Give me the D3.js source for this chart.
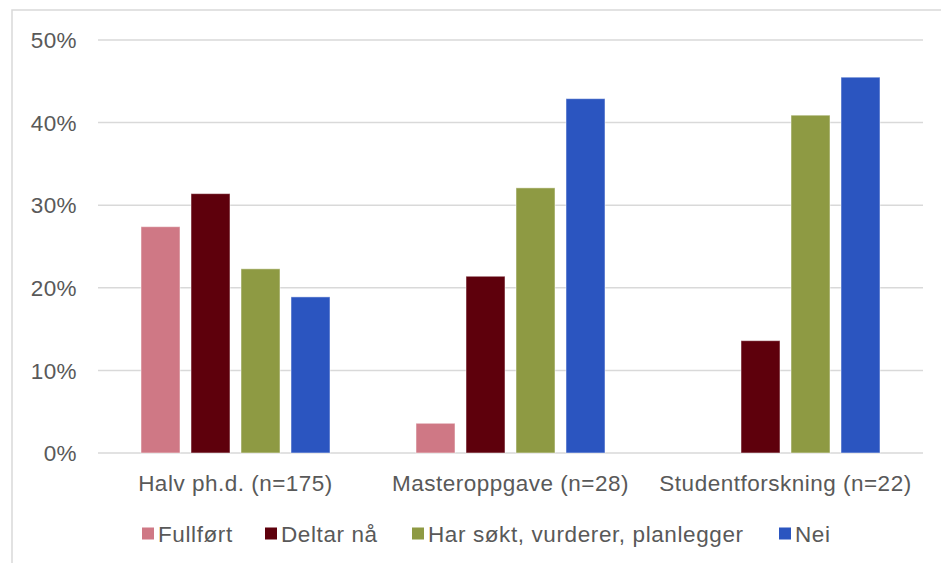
<!DOCTYPE html>
<html>
<head>
<meta charset="utf-8">
<script src="https://cdn.jsdelivr.net/npm/d3@7"></script>
<style>
  body { margin: 0; background: #fff; }
  text { font-family: "Liberation Sans", Arial, sans-serif; fill: #595959; }
</style>
</head>
<body>
<div id="chart"></div>
<script>
(function() {
  "use strict";

  var categories = ["Halv ph.d. (n=175)", "Masteroppgave (n=28)", "Studentforskning (n=22)"];
  var series = ["Fullført", "Deltar nå", "Har søkt, vurderer, planlegger", "Nei"];
  var colors = ["#cf7885", "#5e000c", "#8e9a43", "#2b55c0"];
  var fullfort = [27.4, 3.6, 0];
  var deltar = [31.4, 21.4, 13.6];
  var harSokt = [22.3, 32.1, 40.9];
  var nei = [18.9, 42.9, 45.5];
  var yTicks = [0, 10, 20, 30, 40, 50];

  var values = [fullfort, deltar, harSokt, nei];

  var w = 941, h = 563;
  var left = 98, right = 923, top = 40, bottom = 453;
  var fs = "22.5px";

  var svg = d3.select("#chart").append("svg")
    .attr("width", w)
    .attr("height", h);

  // outer frame (cropped at right/bottom)
  svg.append("rect")
    .attr("x", 12).attr("y", 10)
    .attr("width", 940).attr("height", 560)
    .attr("fill", "none")
    .attr("stroke", "#d9d9d9")
    .attr("stroke-width", 1.5);

  var y = d3.scaleLinear().domain([0, 50]).range([bottom, top]);
  var x0 = d3.scaleBand().domain(categories).range([left, right]);
  var x1 = d3.scaleBand().domain(series).range([0, 200]).paddingInner(0.22).paddingOuter(0.11);

  // gridlines
  svg.append("g").selectAll("line")
    .data(yTicks)
    .enter().append("line")
    .attr("x1", left).attr("x2", right)
    .attr("y1", function(d) { return y(d); })
    .attr("y2", function(d) { return y(d); })
    .attr("stroke", "#d9d9d9")
    .attr("stroke-width", 1.5);

  // y labels
  svg.append("g").selectAll("text")
    .data(yTicks)
    .enter().append("text")
    .attr("x", 77)
    .attr("y", function(d) { return y(d); })
    .attr("dy", "0.36em")
    .attr("text-anchor", "end")
    .style("font-size", fs)
    .style("letter-spacing", "0.4px")
    .text(function(d) { return d + "%"; });

  // bars
  var groups = svg.append("g").selectAll("g")
    .data(categories)
    .enter().append("g")
    .attr("transform", function(d) {
      return "translate(" + (x0(d) + x0.bandwidth() / 2 - 100) + ",0)";
    });

  groups.selectAll("rect")
    .data(function(d, i) {
      return series.map(function(s, j) { return { s: s, v: values[j][i], c: colors[j] }; });
    })
    .enter().append("rect")
    .filter(function(d) { return d.v > 0; })
    .attr("x", function(d) { return x1(d.s); })
    .attr("width", x1.bandwidth())
    .attr("y", function(d) { return y(d.v); })
    .attr("height", function(d) { return bottom - y(d.v); })
    .attr("fill", function(d) { return d.c; })
    .attr("stroke", "rgba(255,255,255,0.5)")
    .attr("stroke-width", 1);

  // category labels
  svg.append("g").selectAll("text")
    .data(categories)
    .enter().append("text")
    .attr("x", function(d) { return x0(d) + x0.bandwidth() / 2; })
    .attr("y", 483)
    .attr("dy", "0.36em")
    .attr("text-anchor", "middle")
    .style("font-size", fs)
    .style("letter-spacing", "0.5px")
    .text(function(d) { return d; });

  // legend
  var legendX = [142, 265, 412, 779];
  var legend = svg.append("g").selectAll("g")
    .data(series)
    .enter().append("g")
    .attr("transform", function(d, i) { return "translate(" + legendX[i] + ",533.5)"; });

  legend.append("rect")
    .attr("x", 0).attr("y", -6)
    .attr("width", 12).attr("height", 12)
    .attr("fill", function(d, i) { return colors[i]; });

  legend.append("text")
    .attr("x", 16)
    .attr("y", 0)
    .attr("dy", "0.36em")
    .style("font-size", fs)
    .style("letter-spacing", "0.6px")
    .text(function(d) { return d; });

})();
</script>
</body>
</html>
